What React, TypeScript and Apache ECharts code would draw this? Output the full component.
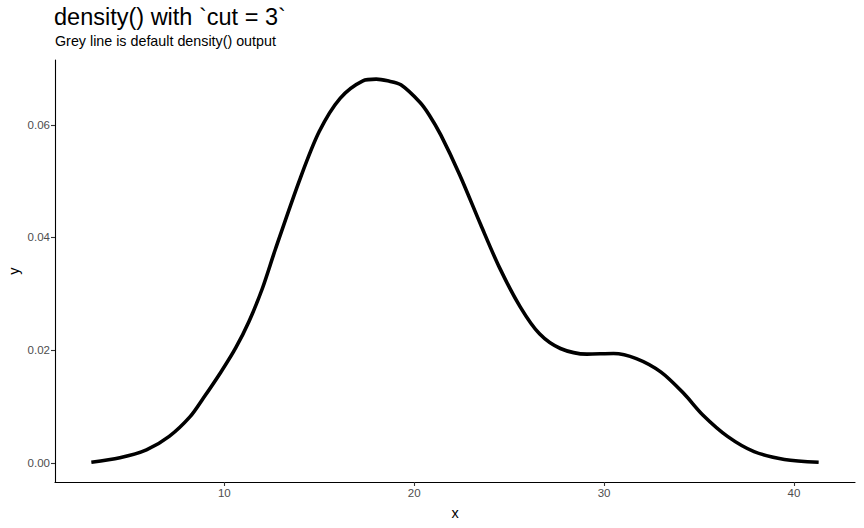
import React, { useEffect, useRef } from "react";
import * as echarts from "echarts";

const xs = [3.0, 4.5, 5.9, 7.1, 8.2, 8.9, 9.8, 10.6, 11.3, 12.0, 12.7, 14.0, 15.0, 16.1, 17.3, 18.0, 18.6, 19.3, 20.3, 20.8, 21.4, 22.4, 23.5, 24.5, 25.6, 26.6, 27.7, 29.1, 30.5, 31.7, 33.0, 34.2, 35.2, 36.5, 37.9, 39.5, 41.3];
const ys = [0.0001, 0.0009, 0.0023, 0.0047, 0.0082, 0.0115, 0.016, 0.0204, 0.0251, 0.0309, 0.038, 0.0505, 0.0588, 0.0647, 0.0678, 0.0681, 0.0678, 0.0671, 0.064, 0.0617, 0.0582, 0.0511, 0.0423, 0.0346, 0.0276, 0.0229, 0.0203, 0.0193, 0.0194, 0.0185, 0.0161, 0.0123, 0.0085, 0.0047, 0.002, 0.0006, 0.0001];
const xTicks = [10, 20, 30, 40];
const yTicks = [0, 0.02, 0.04, 0.06];

const titleText = "density() with `cut = 3`";
const subtitleText = "Grey line is default density() output";
const FONT = "Liberation Sans, Arial, sans-serif";

export default function App() {
  const ref = useRef<HTMLDivElement>(null);
  useEffect(() => {
    if (!ref.current) return;
    const chart = echarts.init(ref.current, null, { renderer: "svg" });
    const pts = xs.map((x, i) => [x, ys[i]]);
    chart.setOption({
      animation: false,
      backgroundColor: "#ffffff",
      textStyle: { fontFamily: FONT },
      grid: { left: 55, right: 9, top: 60, bottom: 46, containLabel: false },
      title: [
        {
          text: titleText,
          left: 54,
          top: 5,
          padding: 0,
          textStyle: { fontFamily: FONT, fontSize: 23.5, fontWeight: "normal", color: "#000" },
        },
        {
          text: subtitleText,
          left: 55,
          top: 34,
          padding: 0,
          textStyle: { fontFamily: FONT, fontSize: 14.3, fontWeight: "normal", color: "#000" },
        },
      ],
      xAxis: {
        type: "value",
        min: 1.085,
        max: 43.215,
        splitLine: { show: false },
        axisLine: { show: true, onZero: false, lineStyle: { color: "#000", width: 1.1 } },
        axisTick: { show: true, length: 4, customValues: xTicks, lineStyle: { color: "#333", width: 1.1 } },
        axisLabel: {
          customValues: xTicks,
          color: "#4d4d4d",
          fontSize: 11.5,
          fontFamily: FONT,
          margin: 5,
        },
      },
      yAxis: {
        type: "value",
        min: -0.0034,
        max: 0.0715,
        splitLine: { show: false },
        axisLine: { show: true, onZero: false, lineStyle: { color: "#000", width: 1.1 } },
        axisTick: { show: true, length: 4, customValues: yTicks, lineStyle: { color: "#333", width: 1.1 } },
        axisLabel: {
          customValues: yTicks,
          color: "#4d4d4d",
          fontSize: 11.5,
          fontFamily: FONT,
          margin: 5,
          formatter: (v: number) => v.toFixed(2),
        },
      },
      graphic: [
        {
          type: "text",
          x: 455,
          y: 513,
          style: { text: "x", fontSize: 14.5, fontFamily: FONT, fill: "#000", align: "center", verticalAlign: "middle" },
        },
        {
          type: "text",
          x: 14,
          y: 271,
          rotation: Math.PI / 2,
          style: { text: "y", fontSize: 14.5, fontFamily: FONT, fill: "#000", align: "center", verticalAlign: "middle" },
        },
      ],
      series: [
        {
          type: "line",
          data: pts,
          showSymbol: false,
          smooth: 0.3,
          lineStyle: { color: "#bebebe", width: 1.1 },
          z: 2,
        },
        {
          type: "line",
          data: pts,
          showSymbol: false,
          smooth: 0.3,
          lineStyle: { color: "#000", width: 3.6 },
          z: 3,
        },
      ],
    });
    return () => chart.dispose();
  }, []);
  return <div ref={ref} style={{ width: 864, height: 528, position: "absolute", left: 0, top: 0 }} />;
}
